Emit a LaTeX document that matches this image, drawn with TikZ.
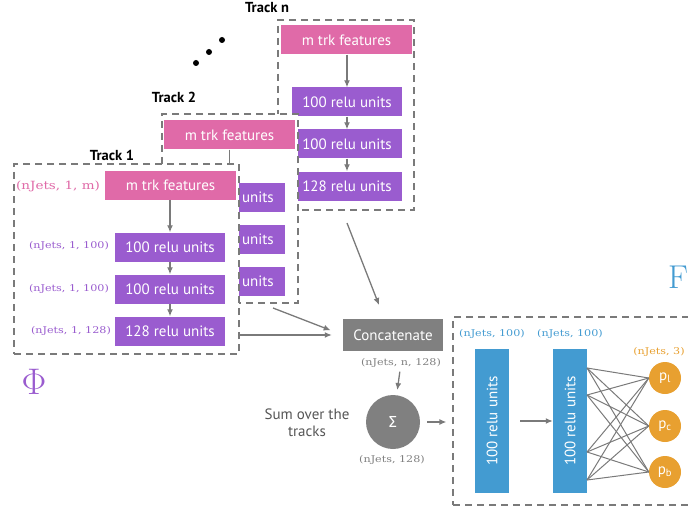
\RequirePackage{fix-cm}
\documentclass[tikz,border=0pt]{standalone}
\usepackage{fontspec}
\newfontfamily\din{PT Sans}
\newfontfamily\sigfont{Fira Sans}
\newfontfamily\tw{DejaVu Serif}[FakeStretch=1.2]
\usetikzlibrary{arrows.meta,calc}
\definecolor{cpink}{HTML}{E06AA8}
\definecolor{cpurple}{HTML}{9A5CCF}
\definecolor{cblue}{HTML}{439BD1}
\definecolor{corange}{HTML}{E8A030}
\definecolor{cgray}{HTML}{808080}
\definecolor{cline}{HTML}{7A7A7A}
\definecolor{ctext}{HTML}{555555}
\begin{document}
\begin{tikzpicture}[x=1pt,y=-1pt,
  box/.style={draw=none, inner sep=0pt, font=\din\fontsize{15}{15}\selectfont, text=white},
  feat/.style={box, fill=cpink, minimum width=131pt, minimum height=29pt},
  relu/.style={box, fill=cpurple, minimum width=110pt, minimum height=29pt},
  trackbox/.style={draw=cline, fill=white, line width=1.3pt, dash pattern=on 7pt off 5pt, inner sep=0pt},
  arr/.style={draw=cline, line width=1.3pt, -{Latex[length=7pt,width=6pt]}},
  wire/.style={draw=cline, line width=1pt},
  tracklbl/.style={font=\din\bfseries\fontsize{14.5}{15}\selectfont, text=black, inner sep=0pt},
  dimlbl/.style={font=\tw\fontsize{9.3}{10}\selectfont, inner sep=0pt},
  dotnode/.style={circle, fill=black, inner sep=0pt, minimum size=6pt},
  bar/.style={box, fill=cblue, rotate=90, minimum width=144pt, minimum height=34pt},
  outc/.style={circle, fill=corange, text=white, inner sep=0pt, minimum size=32pt, font=\din\fontsize{15}{15}\selectfont},
]
\path[use as bounding box, clip] (0,0) rectangle (688,508);

% ---------- Track n ----------
\node[trackbox, minimum width=136pt, minimum height=190pt] (tnbox) at (346,115) {};
\node[tracklbl] (tnlbl) at (267,8) {Track n};
\node[feat] (tn-f) at (346.5,40) {m trk features};
\node[relu] (tn-r1) at (347,102) {100 relu units};
\node[relu] (tn-r2) at (347,144) {100 relu units};
\node[relu] (tn-r3) at (347,186) {128 relu units};
\draw[arr] (tn-f.south -| tn-r1) -- (tn-r1.north);
\draw[arr] (tn-r1) -- (tn-r2);
\draw[arr] (tn-r2) -- (tn-r3);

\node[dotnode] (d1) at (196,63) {};
\node[dotnode] (d2) at (209,52) {};
\node[dotnode] (d3) at (222,40) {};

% ---------- Track 2 (partly hidden behind Track 1) ----------
\node[trackbox, minimum width=136pt, minimum height=189pt] (t2box) at (230,208.5) {};
\node[tracklbl] (t2lbl) at (174,97) {Track 2};
\node[feat] (t2-f) at (229.5,135) {m trk features};
\node[relu, minimum width=46pt, text width=40pt, align=left] (t2-r1) at (262,197) {units};
\node[relu, minimum width=46pt, text width=40pt, align=left] (t2-r2) at (262,239) {units};
\node[relu, minimum width=46pt, text width=40pt, align=left] (t2-r3) at (262,281) {units};

% ---------- Track 1 ----------
\node[trackbox, minimum width=225pt, minimum height=190pt] (t1box) at (126.5,259) {};
\draw[draw=cline, line width=1.3pt] (t2-f.south) -- (t2-f.south |- t1box.north);
\node[tracklbl] (t1lbl) at (112,155) {Track 1};
\node[feat] (t1-f) at (170.5,185) {m trk features};
\node[relu] (t1-r1) at (170,247) {100 relu units};
\node[relu] (t1-r2) at (170,289) {100 relu units};
\node[relu] (t1-r3) at (170,331) {128 relu units};
\draw[arr] (t1-f.south -| t1-r1) -- (t1-r1.north);
\draw[arr] (t1-r1) -- (t1-r2);
\draw[arr] (t1-r2) -- (t1-r3);
\node[dimlbl, text=cpink, font=\tw\fontsize{11.3}{12}\selectfont] (s1f) at (58,186) {(nJets, 1, m)};
\node[dimlbl, text=cpurple] (s1r1) at (69,246) {(nJets, 1, 100)};
\node[dimlbl, text=cpurple] (s1r2) at (69,289) {(nJets, 1, 100)};
\node[dimlbl, text=cpurple] (s1r3) at (71,331) {(nJets, 1, 128)};

\node[text=cpurple, inner sep=0pt, font=\fontsize{37}{37}\selectfont] (phi) at (34,382) {$\Phi$};

% ---------- Concatenate / Sum ----------
\node[box, fill=cgray, minimum width=100pt, minimum height=32pt] (concat) at (393,335) {Concatenate};
\node[dimlbl, text=cgray] (sconcat) at (401,363) {(nJets, n, 128)};
\node[circle, fill=cgray, text=white, inner sep=0pt, minimum size=54pt, font=\sigfont\fontsize{16}{16}\selectfont] (sigma) at (393,422) {Σ};
\node[text=ctext, align=center, inner sep=0pt, font=\din\fontsize{15}{17}\selectfont] (sumlbl) at (307,423) {Sum over the\\tracks};
\node[dimlbl, text=cgray] (ssigma) at (392,460) {(nJets, 128)};

\coordinate (tnA) at (347,223);
\coordinate (tnB) at (379,305);
\coordinate (t2A) at (273,308);
\draw[arr] (tnA) -- (tnB);
\draw[arr, shorten >=13pt] (t2A) -- (concat.west);
\draw[arr, shorten >=11pt] (t1box.east |- concat.west) -- (concat.west);
\draw[arr, shorten <=4pt, shorten >=5pt] (sconcat) -- (sigma);

% ---------- F ----------
\node[trackbox, fill=none, minimum width=270pt, minimum height=188pt] (fbox) at (588,411) {};
\node[text=cblue, inner sep=0pt, anchor=west, font=\fontsize{33}{33}\selectfont] (flbl) at (668,277) {F};
\draw[arr, shorten <=7pt, shorten >=6pt] (sigma) -- (fbox.west |- sigma);

\node[bar] (bar1) at (492,421) {100 relu units};
\node[bar] (bar2) at (570,421) {100 relu units};
\node[dimlbl, text=cblue] (sb1) at (492,334) {(nJets, 100)};
\node[dimlbl, text=cblue] (sb2) at (570,334) {(nJets, 100)};
\draw[arr, shorten <=11pt] (bar1) -- (bar2);

\node[outc] (pl) at (665,378) {p\textsubscript{l}};
\node[outc] (pc) at (665,426) {p\textsubscript{c}};
\node[outc] (pb) at (665,472) {p\textsubscript{b}};
\node[dimlbl, text=corange] (sout) at (659,352) {(nJets, 3)};

\coordinate (o1) at ($(bar2.center)+(17,-53)$);
\coordinate (o2) at ($(bar2.center)+(17,-26)$);
\coordinate (o3) at ($(bar2.center)+(17,31)$);
\coordinate (o4) at ($(bar2.center)+(17,59)$);
\foreach \o in {o1,o2,o3,o4}{
  \foreach \p in {pl,pc,pb}{
    \draw[wire] (\o) -- (\p.west);
  }
}
\end{tikzpicture}
\end{document}
